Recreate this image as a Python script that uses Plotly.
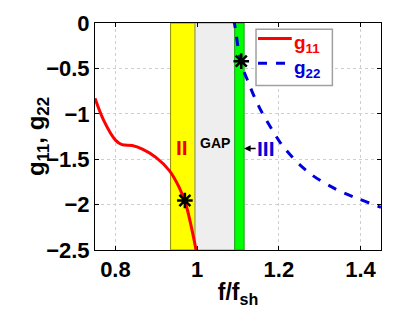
import plotly.graph_objects as go

# --- data ---
f11 = [0.75, 0.771, 0.80, 0.816, 0.841, 0.866, 0.899, 0.932, 0.956, 0.972, 0.984, 0.997, 1.0]
g11 = [-0.83, -1.07, -1.29, -1.34, -1.35, -1.39, -1.48, -1.625, -1.81, -1.99, -2.21, -2.49, -2.56]
f22 = [1.088, 1.091, 1.107, 1.125, 1.15, 1.182, 1.215, 1.272, 1.338, 1.395, 1.45]
g22 = [0.04, 0.0, -0.43, -0.65, -0.91, -1.165, -1.385, -1.643, -1.827, -1.937, -2.03]
star_f = [0.970, 1.108]
star_g = [-1.955, -0.42]
bands = [  # (start, end, fill, outline)
    (0.935, 0.995, "#FFFF00", "#8C8C00"),
    (0.995, 1.092, "#EEEEEE", "#9A9A9A"),
    (1.092, 1.115, "#00FF00", "#1E9E1E"),
]
series_names = ["g<sub>11</sub>", "g<sub>22</sub>"]
series_colors = ["#FF0000", "#0000DD"]
series_dash = ["solid", "dash"]
x_ticks = [0.8, 1.0, 1.2, 1.4]
x_tick_text = ["0.8", "1", "1.2", "1.4"]
y_ticks = [0, -0.5, -1, -1.5, -2, -2.5]
y_tick_text = ["0", "\u22120.5", "\u22121", "\u22121.5", "\u22122", "\u22122.5"]

FONT = "Liberation Sans, Arial, sans-serif"

fig = go.Figure()
for x0, x1, fc, lc in bands:
    fig.add_shape(type="rect", xref="x", yref="y", x0=x0, x1=x1, y0=-2.5, y1=0,
                  fillcolor=fc, line=dict(color=lc, width=1), layer="between")

for fx, gy, nm, col, ds in zip([f11, f22], [g11, g22], series_names, series_colors, series_dash):
    fig.add_trace(go.Scatter(x=fx, y=gy, mode="lines", name=nm, showlegend=False,
                             line=dict(color=col, width=3, dash=ds, shape="spline")))
fig.add_trace(go.Scatter(x=star_f, y=star_g, mode="markers", showlegend=False,
                         marker=dict(symbol="asterisk-open", size=13, color="black",
                                     line=dict(color="black", width=2.5))))

fig.add_annotation(x=0.963, y=-1.371, text="<b>II</b>", showarrow=False,
                   font=dict(family=FONT, size=21, color="#EE0000"))
fig.add_annotation(x=1.044, y=-1.327, text="<b>GAP</b>", showarrow=False,
                   font=dict(family=FONT, size=14, color="black"))
fig.add_annotation(x=1.115, y=-1.382, text="<b>III</b>", showarrow=True, ax=22, ay=0,
                   arrowhead=2, arrowsize=1, arrowwidth=1.3, arrowcolor="black",
                   font=dict(family=FONT, size=21, color="#0000DD"))

# legend box (MATLAB style, compact)
LEG_FS = 19
line_gap_px = LEG_FS * 1.3
plot_h = 226.6
fig.add_shape(type="rect", xref="paper", yref="paper", x0=0.563, x1=0.830, y0=0.725, y1=0.972,
              fillcolor="white", line=dict(color="#A0A0A0", width=1.5), layer="above")
y_first = 0.932
for i, (col, ds) in enumerate(zip(series_colors, series_dash)):
    yl = y_first - i * line_gap_px / plot_h
    fig.add_shape(type="line", xref="paper", yref="paper", x0=0.570, x1=0.688, y0=yl, y1=yl,
                  line=dict(color=col, width=3, dash=ds), layer="above")
legend_text = "<br>".join("<span style='color:%s'><b>%s</b></span>" % (c, n)
                          for n, c in zip(series_names, series_colors))
fig.add_annotation(xref="paper", yref="paper", x=0.690, y=y_first + 0.035, xanchor="left", yanchor="top",
                   text=legend_text, showarrow=False, align="left",
                   font=dict(family=FONT, size=LEG_FS, color="black"))

# y-axis title as rotated annotation to match placement
fig.add_annotation(xref="paper", yref="paper", x=-0.262, y=0.5, textangle=-90, showarrow=False,
                   text="<b>g<sub>11</sub>, g<sub>22</sub></b>",
                   font=dict(family=FONT, size=24, color="black"))

axis_common = dict(showline=True, linecolor="black", linewidth=1, mirror="ticks",
                   ticks="inside", ticklen=4, tickcolor="black",
                   showgrid=True, gridcolor="#CFCFCF", griddash="dot", gridwidth=1,
                   zeroline=False, tickfont=dict(family=FONT, size=22, color="black"))

fig.update_xaxes(range=[0.75, 1.45], tickvals=x_ticks, ticktext=["<b>%s</b>" % t for t in x_tick_text],
                 title=dict(text="<b>f/f<sub>sh</sub></b>", font=dict(family=FONT, size=23, color="black"), standoff=2),
                 **axis_common)
fig.update_yaxes(range=[-2.5, 0], tickvals=y_ticks, ticktext=["<b>%s</b>" % t for t in y_tick_text],
                 **axis_common)

# the page body adds an 8px offset, so the figure is 8px smaller and margins shifted
fig.update_layout(
    width=411, height=307,
    margin=dict(l=87, r=38, t=15, b=65, autoexpand=False),
    paper_bgcolor="white", plot_bgcolor="white",
    showlegend=False,
)

fig.write_html("out.html")
